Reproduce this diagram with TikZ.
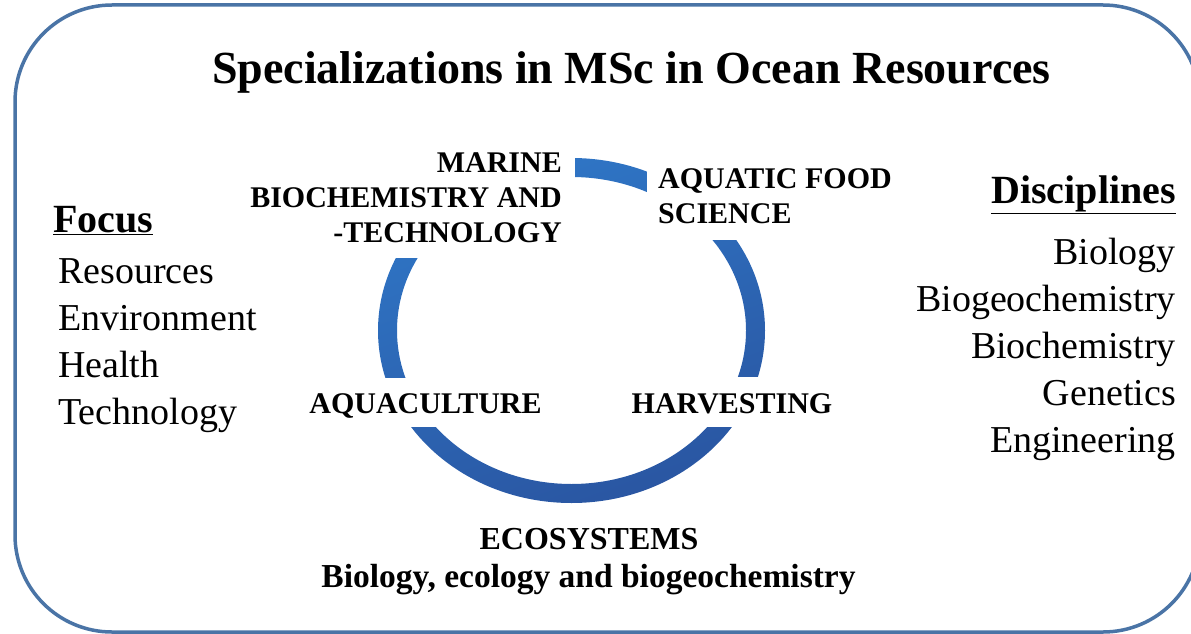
\documentclass[tikz,border=0pt]{standalone}
\usepackage{fontspec}
\setmainfont{Liberation Serif}
\usetikzlibrary{positioning}
\definecolor{framebl}{RGB}{74,116,166}
\definecolor{ringtop}{RGB}{47,118,198}
\definecolor{ringbot}{RGB}{42,86,162}
\tikzset{
  titletxt/.style={font=\fontsize{46}{52}\selectfont\bfseries, inner sep=0pt},
  ringlbl/.style={font=\fontsize{30}{35}\selectfont\bfseries, inner sep=0pt},
  ecotxt/.style={font=\fontsize{32}{38}\selectfont\bfseries, inner sep=0pt},
  headtxt/.style={font=\fontsize{40}{47}\selectfont\bfseries, inner sep=0pt},
  listtxt/.style={font=\fontsize{38}{47}\selectfont, inner sep=0pt},
  mask/.style={fill=white},
}
\begin{document}
\begin{tikzpicture}[x=1pt,y=-1pt]
		%%%%% FRAME %%%%%
		\useasboundingbox (0,0) rectangle (1191,634);
		\draw[line width=3.5pt, color=framebl, rounded corners=97pt] (15,5) rectangle (1200,632);
		
		%%%%% RING %%%%%
		\shade[even odd rule, top color=ringtop, bottom color=ringbot, shading angle=20]
			(571.5,330.5) ellipse [x radius=193.5pt, y radius=172.5pt]
			(571.5,330.5) ellipse [x radius=174.5pt, y radius=153.5pt];
		
		\fill[mask] (240,135) rectangle (575,258);
		\fill[mask] (647,135) rectangle (905,240);
		\fill[mask] (300,378) rectangle (555,427);
		\fill[mask] (615,377) rectangle (845,427);
		
		%%%%% TEXT %%%%%
		\node[titletxt, anchor=base] (title) at (631.5,83) {Specializations in MSc in Ocean Resources};
		
		% multi-line nodes: base = last line
		\node[ringlbl, align=right, anchor=base east] (marine) at (562,242) {MARINE\\BIOCHEMISTRY AND\\-TECHNOLOGY};
		\node[ringlbl, align=left, anchor=base west] (aquatic) at (658,223) {AQUATIC FOOD\\SCIENCE};
		\node[ringlbl, anchor=base] (aquacult) at (425.5,413) {AQUACULTURE};
		\node[ringlbl, anchor=base] (harvest) at (732,413) {HARVESTING};
		
		\node[ecotxt, anchor=base] (eco) at (589,549) {ECOSYSTEMS};
		\node[ecotxt, font=\fontsize{33.5}{38}\selectfont\bfseries, anchor=base] (ecosub) at (588.5,587) {Biology, ecology and biogeochemistry};
		
		\node[headtxt, anchor=base west] (focus) at (53,232) {\underline{Focus}};
		\node[listtxt, align=left, anchor=base west] (focuslist) at (58,424) {Resources\\Environment\\Health\\Technology};
		
		\node[headtxt, anchor=base east] (disc) at (1176,203) {\underline{Disciplines}};
		\node[listtxt, align=right, anchor=base east] (disclist) at (1176,452) {Biology\\Biogeochemistry\\Biochemistry\\Genetics\\Engineering};
		%%%%% END %%%%%
\end{tikzpicture}
\end{document}
